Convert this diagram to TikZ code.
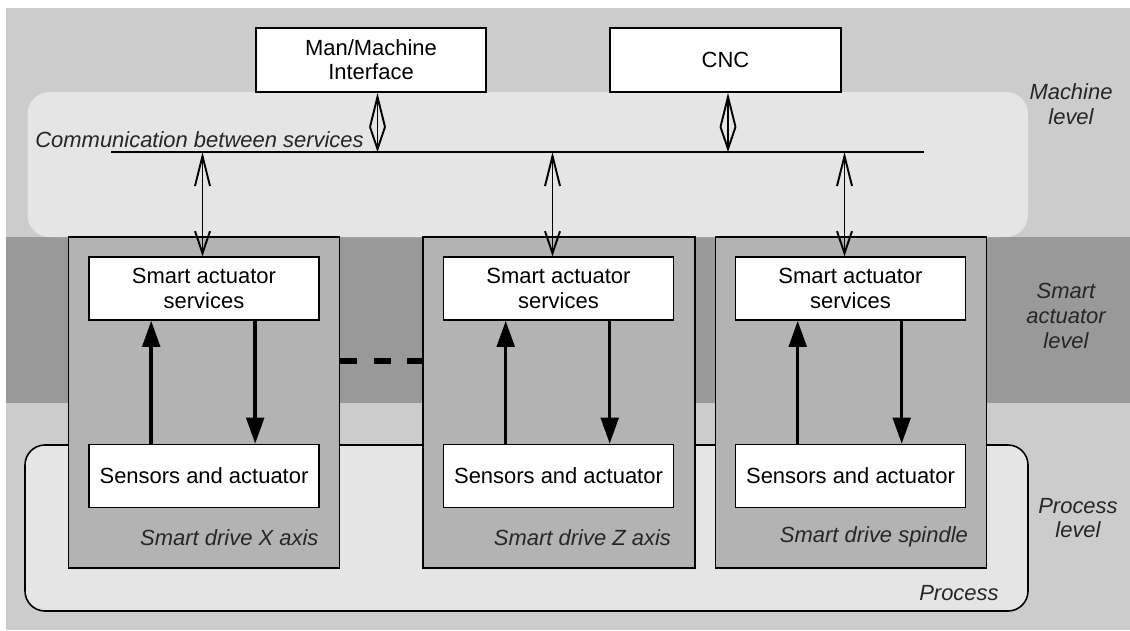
\documentclass[tikz,border=0pt]{standalone}
\usepackage{fontspec}
\setmainfont{Liberation Sans}
\usetikzlibrary{arrows.meta, positioning, calc}

\definecolor{bandlight}{HTML}{CCCCCC}
\definecolor{banddark}{HTML}{999999}
\definecolor{areafill}{HTML}{E5E5E5}
\definecolor{drivefill}{HTML}{B3B3B3}

\begin{document}
\begin{tikzpicture}[x=0.02cm, y=-0.02cm,
    every node/.style={font=\fontsize{12.5}{13.8}\selectfont, inner sep=0pt},
    box/.style={draw, line width=0.9pt, fill=white, minimum width=4.6cm, minimum height=1.26cm, align=center},
    drive/.style={draw, line width=0.9pt, fill=drivefill, minimum width=5.42cm, minimum height=6.62cm},
    lbl/.style={font=\fontsize{12.5}{14}\selectfont\itshape, text=black!85, align=center},
    link/.style={line width=0.6pt, arrows={Straight Barb[length=0.6cm,width=0.3cm,line width=1.1pt]-Straight Barb[length=0.44cm,width=0.3cm,line width=1.1pt]}},
    flow/.style={line width=2pt, -{Triangle[length=0.52cm,width=0.35cm]}}]
    \useasboundingbox (0,0) rectangle (1130,630);

    % Levels
    \fill[white] (0,0) rectangle (1130,630);
    \fill[bandlight] (6,8) rectangle (1130,237);
    \fill[banddark] (6,237) rectangle (1130,403);
    \fill[bandlight] (6,403) rectangle (1130,630);
    \fill[areafill, rounded corners=0.44cm] (27.5,92) rectangle (1028,237);
    \draw[line width=0.9pt, fill=areafill, rounded corners=0.4cm] (25,445) rectangle (1028,611);
    \node[lbl] (machlvl) at (1071,104) {Machine\\level};
    \node[lbl] (smartlvl) at (1066,316) {Smart\\actuator\\level};
    \node[lbl] (proclvl) at (1078,518) {Process\\level};
    \node[lbl, anchor=east] (proc) at (999,593) {Process};

    % Machine level
    \node[box, minimum height=1.28cm] (mmi) at (371,60) {Man/Machine\\Interface};
    \node[box, minimum height=1.28cm, minimum width=4.62cm] (cnc) at (725.5,60) {CNC};
    \node[lbl, anchor=west] (comm) at (35,140) {Communication between services};
    \coordinate (busL) at (111,152);
    \coordinate (busR) at (923.6,152);
    \draw[line width=0.8pt] (busL) -- (busR);

    % Smart drives
    \node[drive] (drvx) at (204,402.5) {};
    \node[drive, minimum width=5.44cm] (drvz) at (559,402.5) {};
    \node[drive] (drvs) at (851,402.5) {};
    \node[box] (sasx) at (204,288.5) {Smart actuator\\services};
    \node[box] (sasz) at (558.5,288.5) {Smart actuator\\services};
    \node[box] (sass) at (850.5,288.5) {Smart actuator\\services};
    \node[box] (sensx) at (204,476) {Sensors and actuator};
    \node[box] (sensz) at (558.5,476) {Sensors and actuator};
    \node[box] (senss) at (850.5,476) {Sensors and actuator};
    \node[lbl, anchor=east] (namex) at ($(sensx.south east)+(-1,29)$) {Smart drive X axis};
    \node[lbl, anchor=east] (namez) at ($(sensz.south east)+(-3,29)$) {Smart drive Z axis};
    \node[lbl, anchor=east] (names) at ($(senss.south east)+(2,29)$) {Smart drive spindle};

    % Links to the bus
    \draw[link] ([xshift=0.13cm]mmi.south) -- ([xshift=0.13cm]mmi.south |- busL);
    \draw[link] ([xshift=0.05cm]cnc.south) -- ([xshift=0.05cm]cnc.south |- busL);
    \draw[link] ([xshift=-0.03cm]sasx.north |- busL) -- ([xshift=-0.03cm]sasx.north);
    \draw[link] ([xshift=-0.12cm]sasz.north |- busL) -- ([xshift=-0.12cm]sasz.north);
    \draw[link] ([xshift=-0.12cm]sass.north |- busL) -- ([xshift=-0.12cm]sass.north);

    % Inside each drive
    \draw[flow] ([xshift=1.26cm]sensx.north west) -- ([xshift=1.26cm]sasx.south west);
    \draw[flow] ([xshift=3.34cm]sasx.south west) -- ([xshift=3.34cm]sensx.north west);
    \draw[flow] ([xshift=1.26cm]sensz.north west) -- ([xshift=1.26cm]sasz.south west);
    \draw[flow] ([xshift=3.34cm]sasz.south west) -- ([xshift=3.34cm]sensz.north west);
    \draw[flow] ([xshift=1.26cm]senss.north west) -- ([xshift=1.26cm]sass.south west);
    \draw[flow] ([xshift=3.34cm]sass.south west) -- ([xshift=3.34cm]senss.north west);

    % Dashed link between drives
    \draw[line width=3.4pt, dash pattern=on 0.34cm off 0.33cm] ([yshift=0.83cm]drvx.east) -- ([yshift=0.83cm]drvz.west);
\end{tikzpicture}
\end{document}
